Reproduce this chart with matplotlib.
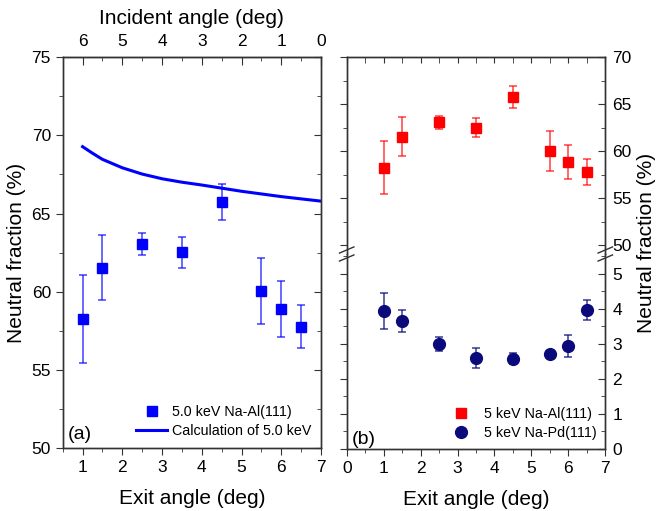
import matplotlib
matplotlib.use('Agg')
import matplotlib.pyplot as plt
from matplotlib.ticker import MultipleLocator
from matplotlib.lines import Line2D

plt.rcParams['font.family'] = ['Liberation Sans', 'DejaVu Sans']

exit_angle = [1, 1.5, 2.5, 3.5, 4.5, 5.5, 6, 6.5]
al_nf = [58.25, 61.55, 63.06, 62.51, 65.73, 60.04, 58.89, 57.78]
al_err = [2.8, 2.1, 0.7, 1.0, 1.17, 2.1, 1.8, 1.4]
pd_nf = [3.93, 3.65, 2.99, 2.59, 2.58, 2.70, 2.94, 3.97]
pd_err = [0.51, 0.3, 0.19, 0.28, 0.17, 0.05, 0.31, 0.28]
calc_x = [1, 1.25, 1.5, 2, 2.5, 3, 3.5, 4, 4.5, 5, 6, 7]
calc_y = [69.27, 68.85, 68.46, 67.92, 67.52, 67.22, 67.0, 66.82, 66.62,
          66.42, 66.08, 65.79]

BLUE = '#0000ff'
RED = '#ff0000'
NAVY = '#0a0a7a'
SPINE = '#333333'
TICK_FS = 12.5
LABEL_FS = 15
LEG_FS = 10.3


def style_spines(ax):
    for s in ax.spines.values():
        s.set_color(SPINE)
        s.set_linewidth(1.0)


fig = plt.figure(figsize=(6.56, 5.11), dpi=100)

# ---- panel (a)
ax = fig.add_axes([0.0956, 0.1227, 0.3937, 0.7658])
style_spines(ax)
ax.errorbar(exit_angle, al_nf, yerr=al_err, fmt='s', color=BLUE, ms=7.5,
            ecolor=(0, 0, 1, 0.75), elinewidth=1.1, capsize=3, capthick=1.1)
ax.plot(calc_x, calc_y, color=BLUE, lw=2.2)
ax.set_xlim(0.5, 7)
ax.set_ylim(50, 75)
ax.xaxis.set_major_locator(MultipleLocator(1))
ax.xaxis.set_minor_locator(MultipleLocator(0.5))
ax.yaxis.set_major_locator(MultipleLocator(5))
ax.yaxis.set_minor_locator(MultipleLocator(2.5))
ax.tick_params(which='both', direction='out', top=False, right=False,
               labelsize=TICK_FS, color=SPINE)
ax.tick_params(which='major', length=5)
ax.tick_params(which='minor', length=3)
# right side ticks inward
ax2 = ax.twinx()
ax2.set_ylim(ax.get_ylim())
ax2.yaxis.set_major_locator(MultipleLocator(5))
ax2.yaxis.set_minor_locator(MultipleLocator(2.5))
ax2.tick_params(which='both', direction='in', labelright=False, color=SPINE)
ax2.tick_params(which='major', length=5)
ax2.tick_params(which='minor', length=3)
style_spines(ax2)

sec = ax.secondary_xaxis('top', functions=(lambda x: 7 - x, lambda x: 7 - x))
sec.xaxis.set_major_locator(MultipleLocator(1))
sec.xaxis.set_minor_locator(MultipleLocator(0.5))
sec.tick_params(which='both', direction='in', labelsize=TICK_FS, color=SPINE,
                pad=6)
sec.tick_params(which='major', length=6)
sec.tick_params(which='minor', length=3)
sec.set_xlabel('Incident angle (deg)', fontsize=LABEL_FS, labelpad=7)

ax.set_xlabel('Exit angle (deg)', fontsize=LABEL_FS, labelpad=10)
ax.set_ylabel('Neutral fraction (%)', fontsize=LABEL_FS, labelpad=4)
h_sq = Line2D([], [], marker='s', color=BLUE, ls='none', ms=7.5)
h_ln = Line2D([], [], color=BLUE, lw=2.2)
ax.legend([h_sq, h_ln], ['5.0 keV Na-Al(111)', 'Calculation of 5.0 keV'],
          loc='lower right', frameon=False, fontsize=LEG_FS, handlelength=2.2,
          handletextpad=0.3, borderaxespad=0.3, labelspacing=0.35)
ax.text(0.02, 0.025, '(a)', transform=ax.transAxes, fontsize=14)

# ---- panel (b), broken axis
bt = fig.add_axes([0.5285, 0.5029, 0.3942, 0.3849])
bb = fig.add_axes([0.5285, 0.1213, 0.3942, 0.3816])
for a in (bt, bb):
    style_spines(a)
    a.set_xlim(0, 7)
    a.xaxis.set_major_locator(MultipleLocator(1))
    a.xaxis.set_minor_locator(MultipleLocator(0.5))
bt.spines['bottom'].set_visible(False)
bb.spines['top'].set_visible(False)

bt.errorbar(exit_angle, al_nf, yerr=al_err, fmt='s', color=RED, ms=7.5,
            ecolor=(1, 0, 0, 0.75), elinewidth=1.1, capsize=3, capthick=1.1)
bt.set_ylim(49.05, 70)
bt.yaxis.set_major_locator(MultipleLocator(5))
bt.yaxis.set_minor_locator(MultipleLocator(2.5))
bt.tick_params(axis='x', which='both', bottom=False, top=True, direction='in',
               labelbottom=False, color=SPINE)
bt.tick_params(axis='x', which='both', length=4)

bb.errorbar(exit_angle, pd_nf, yerr=pd_err, fmt='o', color=NAVY, ms=8.5,
            ecolor=(0.04, 0.04, 0.48, 0.8), elinewidth=1.1, capsize=3,
            capthick=1.1)
bb.set_ylim(0, 5.56)
bb.yaxis.set_major_locator(MultipleLocator(1))
bb.yaxis.set_minor_locator(MultipleLocator(0.5))
bb.tick_params(axis='x', which='both', direction='out', labelsize=TICK_FS,
               color=SPINE)
bb.tick_params(axis='x', which='major', length=5)
bb.tick_params(axis='x', which='minor', length=3)
bb.set_xlabel('Exit angle (deg)', fontsize=LABEL_FS, labelpad=10)

for a in (bt, bb):
    a.tick_params(axis='y', which='both', left=True, right=False,
                  labelleft=False, direction='out', color=SPINE)
    a.tick_params(axis='y', which='major', length=5)
    a.tick_params(axis='y', which='minor', length=3)
    r = a.twinx()
    r.set_ylim(a.get_ylim())
    r.yaxis.set_major_locator(a.yaxis.get_major_locator())
    r.yaxis.set_minor_locator(a.yaxis.get_minor_locator())
    r.tick_params(axis='y', which='both', direction='in', labelsize=TICK_FS,
                  color=SPINE, pad=5)
    r.tick_params(axis='y', which='major', length=5)
    r.tick_params(axis='y', which='minor', length=3)
    style_spines(r)
    r.spines['bottom'].set_visible(a is bb)
    r.spines['top'].set_visible(a is bt)

fig.text(0.986, 0.525, 'Neutral fraction (%)', rotation=90, fontsize=LABEL_FS,
         ha='center', va='center')

h_al = Line2D([], [], marker='s', color=RED, ls='none', ms=7.5)
h_pd = Line2D([], [], marker='o', color=NAVY, ls='none', ms=8.5)
bb.legend([h_al, h_pd], ['5 keV Na-Al(111)', '5 keV Na-Pd(111)'],
          loc='lower right', frameon=False, fontsize=LEG_FS, handletextpad=0.6,
          borderaxespad=0.2, labelspacing=0.35)
bb.text(0.02, 0.025, '(b)', transform=bb.transAxes, fontsize=14)

# break marks
for xf in (0.5285, 0.5285 + 0.3942):
    for yp in (250, 258):
        yf = 1 - yp / 511
        fig.add_artist(Line2D([xf - 0.011, xf + 0.011], [yf - 0.006, yf + 0.006],
                              color=SPINE, lw=1.0))

fig.savefig('out.png', dpi=100)
